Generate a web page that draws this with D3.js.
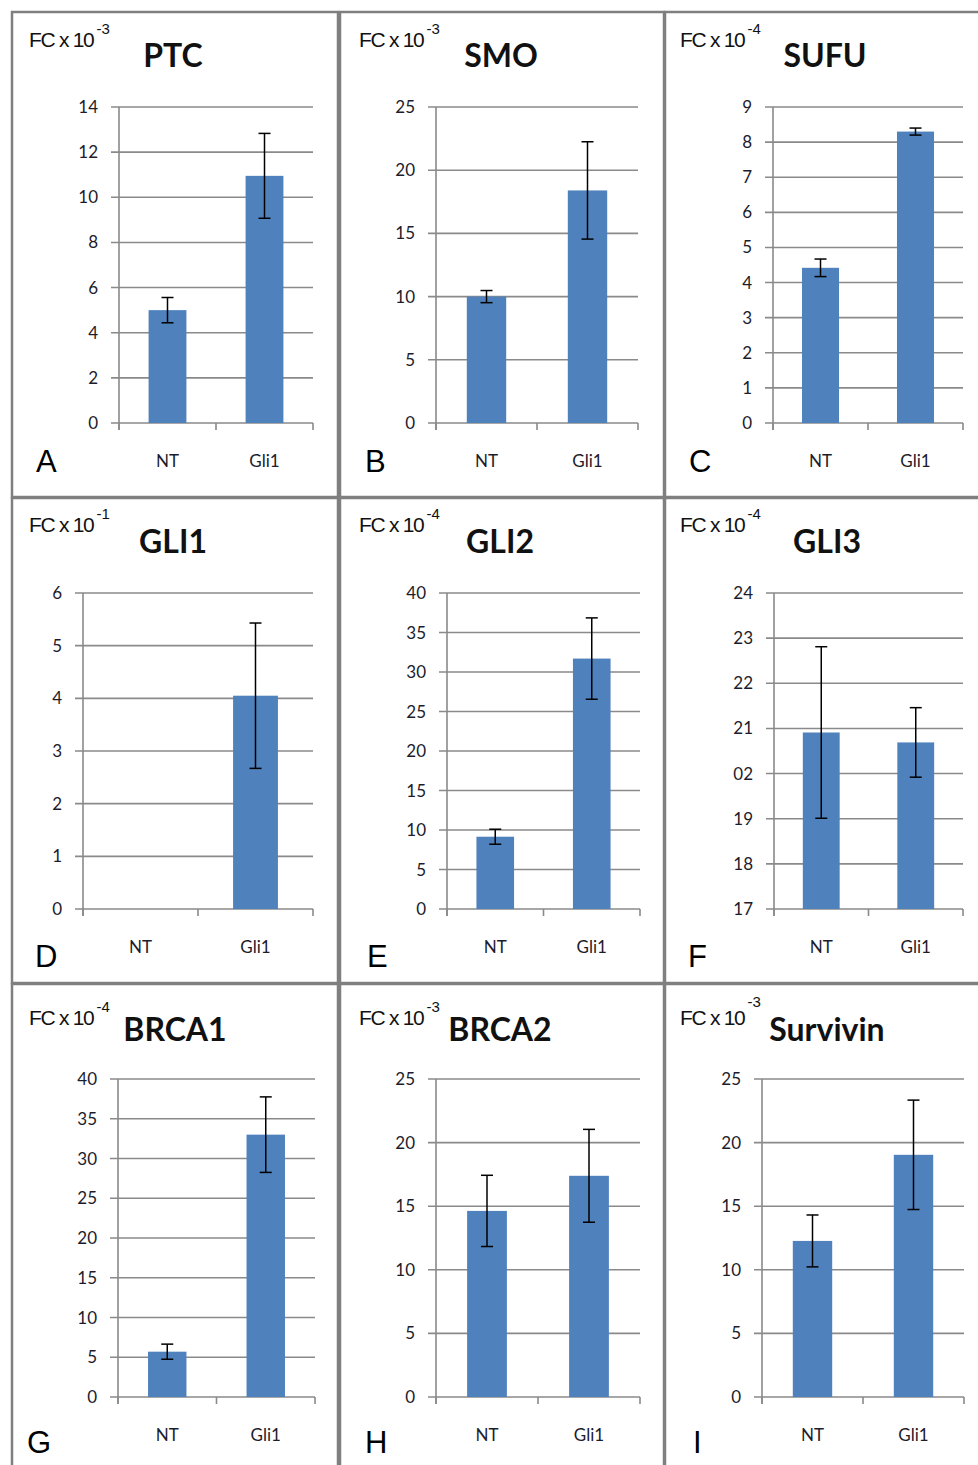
<!DOCTYPE html>
<html>
<head>
<meta charset="utf-8">
<script src="https://cdn.jsdelivr.net/npm/d3@7/dist/d3.min.js"></script>
<style>
  html, body { margin: 0; padding: 0; background: #fff; }
  svg { display: block; }
</style>
</head>
<body>
<svg id="chart" width="978" height="1465"></svg>
<script>
// ---------------- DATA ----------------
const genes = ["PTC", "SMO", "SUFU", "GLI1", "GLI2", "GLI3", "BRCA1", "BRCA2", "Survivin"];
const panelLetters = ["A", "B", "C", "D", "E", "F", "G", "H", "I"];
const categories = ["NT", "Gli1"];
const exponents = ["-3", "-3", "-4", "-1", "-4", "-4", "-4", "-3", "-3"];
const ntValues   = [5.0, 10.0, 4.42, 0, 9.15, 20.91, 5.7, 14.63, 12.27];
const gli1Values = [10.95, 18.4, 8.30, 4.05, 31.7, 20.69, 33.0, 17.39, 19.04];
const ntErrors   = [0.56, 0.48, 0.25, 0, 0.95, 1.9, 0.95, 2.8, 2.04];
const gli1Errors = [1.88, 3.85, 0.1, 1.38, 5.15, 0.77, 4.75, 3.65, 4.3];
const yMin = [0, 0, 0, 0, 0, 17, 0, 0, 0];
const yMax = [14, 25, 9, 6, 40, 24, 40, 25, 25];
const yTickValues = [
  [0, 2, 4, 6, 8, 10, 12, 14],
  [0, 5, 10, 15, 20, 25],
  [0, 1, 2, 3, 4, 5, 6, 7, 8, 9],
  [0, 1, 2, 3, 4, 5, 6],
  [0, 5, 10, 15, 20, 25, 30, 35, 40],
  [17, 18, 19, 20, 21, 22, 23, 24],
  [0, 5, 10, 15, 20, 25, 30, 35, 40],
  [0, 5, 10, 15, 20, 25],
  [0, 5, 10, 15, 20, 25]
];
const yTickLabels = [
  ["0", "2", "4", "6", "8", "10", "12", "14"],
  ["0", "5", "10", "15", "20", "25"],
  ["0", "1", "2", "3", "4", "5", "6", "7", "8", "9"],
  ["0", "1", "2", "3", "4", "5", "6"],
  ["0", "5", "10", "15", "20", "25", "30", "35", "40"],
  ["17", "18", "19", "02", "21", "22", "23", "24"],
  ["0", "5", "10", "15", "20", "25", "30", "35", "40"],
  ["0", "5", "10", "15", "20", "25"],
  ["0", "5", "10", "15", "20", "25"]
];

// ---------------- LAYOUT ----------------
const boxX = [[12, 338], [340, 664], [665, 990]];
const boxY = [[12, 497], [498, 983], [984, 1475]];
const plotX = [[119, 313], [436, 638], [773, 963], [83, 313], [447, 640], [774, 963], [118, 315], [436, 640], [762, 964]];
const plotY = [[107, 423], [593, 909], [1079, 1397]];
const fcX = [29, 359, 680];
const fcBase = [47, 532, 1025];
const letterX = [36, 365, 689, 35, 367, 688, 27, 365, 693];
const letterBase = [472, 967, 1453];
const titleCX = [173, 501, 825, 173, 500, 827, 175, 500, 827];
const titleBase = [67, 553, 1041];

const BAR = "#4f81bd";
const GRID = "#8a8a8a";
const TXT = "#1c1c2c";

const svg = d3.select("#chart");
svg.append("rect").attr("width", 978).attr("height", 1465).attr("fill", "#fff");

genes.forEach((gene, i) => {
  const row = Math.floor(i / 3), col = i % 3;
  const g = svg.append("g");

  // panel box
  g.append("rect")
    .attr("x", boxX[col][0]).attr("y", boxY[row][0])
    .attr("width", boxX[col][1] - boxX[col][0])
    .attr("height", boxY[row][1] - boxY[row][0])
    .attr("fill", "none").attr("stroke", "#7f7f7f").attr("stroke-width", 2.5);

  const [x0, x1] = plotX[i];
  const [yT, yZ] = plotY[row];

  const x = d3.scaleBand().domain(categories).range([x0, x1]).paddingInner(0.61).paddingOuter(0.305);
  const y = d3.scaleLinear().domain([yMin[i], yMax[i]]).range([yZ, yT]);

  // gridlines
  g.append("g").selectAll("line").data(yTickValues[i]).join("line")
    .attr("x1", x0 - 8).attr("x2", x1)
    .attr("y1", d => y(d)).attr("y2", d => y(d))
    .attr("stroke", GRID).attr("stroke-width", 1.6);

  // y-axis line
  g.append("line").attr("x1", x0).attr("x2", x0).attr("y1", yT).attr("y2", yZ + 7)
    .attr("stroke", GRID).attr("stroke-width", 1.6);

  // x-axis boundary ticks
  const step = x.step();
  g.append("g").selectAll("line").data(d3.range(categories.length + 1)).join("line")
    .attr("x1", k => x0 + k * step).attr("x2", k => x0 + k * step)
    .attr("y1", yZ).attr("y2", yZ + 7)
    .attr("stroke", GRID).attr("stroke-width", 1.6);

  // y tick labels
  g.append("g").selectAll("text").data(yTickValues[i]).join("text")
    .attr("x", x0 - 21).attr("y", d => y(d) + 6)
    .attr("text-anchor", "end")
    .attr("font-family", "Lato, 'Open Sans', sans-serif").attr("font-size", 17)
    .attr("fill", TXT)
    .text((d, k) => yTickLabels[i][k]);

  // bars
  const vals = [ntValues[i], gli1Values[i]];
  const errs = [ntErrors[i], gli1Errors[i]];
  g.append("g").selectAll("rect").data(categories).join("rect")
    .attr("x", c => x(c)).attr("width", x.bandwidth())
    .attr("y", (c, k) => y(vals[k]))
    .attr("height", (c, k) => Math.max(0, yZ - y(vals[k])))
    .attr("fill", BAR);

  // error bars
  categories.forEach((c, k) => {
    if (!errs[k]) return;
    const cx = x(c) + x.bandwidth() / 2;
    const hi = y(vals[k] + errs[k]), lo = y(vals[k] - errs[k]);
    const eb = g.append("g").attr("stroke", "#000").attr("stroke-width", 1.5);
    eb.append("line").attr("x1", cx).attr("x2", cx).attr("y1", hi).attr("y2", lo);
    eb.append("line").attr("x1", cx - 6).attr("x2", cx + 6).attr("y1", hi).attr("y2", hi);
    eb.append("line").attr("x1", cx - 6).attr("x2", cx + 6).attr("y1", lo).attr("y2", lo);
  });

  // category labels
  g.append("g").selectAll("text").data(categories).join("text")
    .attr("x", c => x(c) + x.bandwidth() / 2).attr("y", yZ + 44)
    .attr("text-anchor", "middle")
    .attr("font-family", "Lato, 'Open Sans', sans-serif").attr("font-size", 17)
    .attr("fill", TXT)
    .text(c => c);

  // title
  g.append("text")
    .attr("x", titleCX[i]).attr("y", titleBase[row])
    .attr("text-anchor", "middle")
    .attr("font-family", "Lato, 'Open Sans', sans-serif").attr("font-weight", "bold")
    .attr("font-size", 32).attr("fill", "#111")
    .text(gene);

  // FC x 10^exp
  const fc = g.append("text")
    .attr("x", fcX[col]).attr("y", fcBase[row])
    .attr("font-family", "'Liberation Sans', Arial, sans-serif").attr("font-size", 21)
    .attr("letter-spacing", -1.3)
    .attr("fill", "#111");
  fc.append("tspan").text("FC x 10");
  fc.append("tspan").attr("dy", i === 8 ? -18 : -13).attr("dx", 3)
    .attr("font-size", 15).attr("letter-spacing", 0).text(exponents[i]);

  // panel letter
  g.append("text")
    .attr("x", letterX[i]).attr("y", letterBase[row])
    .attr("font-family", "'Liberation Sans', Arial, sans-serif").attr("font-size", 31)
    .attr("fill", "#000")
    .text(panelLetters[i]);
});
</script>
</body>
</html>
